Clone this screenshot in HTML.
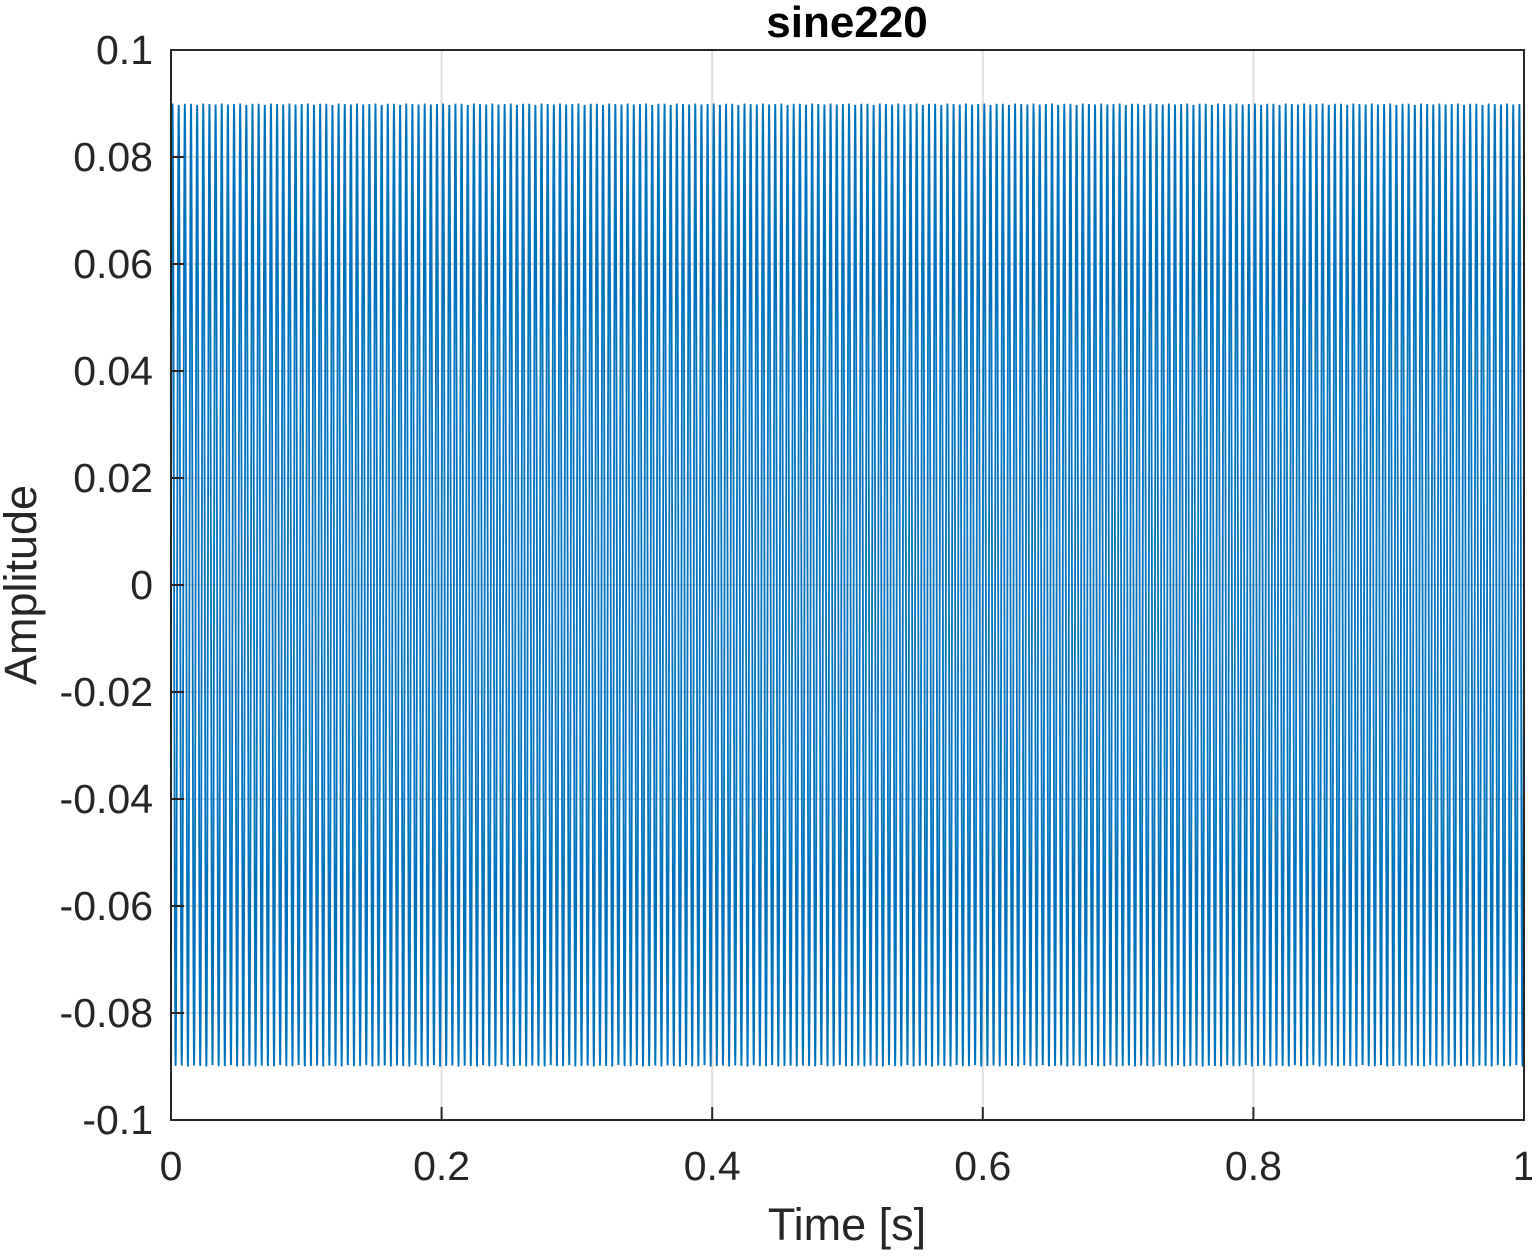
<!DOCTYPE html>
<html><head><meta charset="utf-8"><style>
body{margin:0;background:#fff;}
svg text{font-family:"Liberation Sans",Arial,sans-serif;fill:#262626;}
</style></head><body>
<svg id="chart" width="1532" height="1253" xmlns="http://www.w3.org/2000/svg">
<rect width="1532" height="1253" fill="#fff"/>
<g id="grid"></g>
<g id="series"></g>
<rect x="171" y="50" width="1353" height="1070" fill="none" stroke="#262626" stroke-width="2"/>
<g id="ticks"></g>
<text x="847" y="37" font-size="44" font-weight="bold" text-anchor="middle" style="fill:#000">sine220</text>
<text x="847" y="1240" font-size="45" text-anchor="middle">Time [s]</text>
<text transform="translate(36,585) rotate(-90)" font-size="45" text-anchor="middle">Amplitude</text>
</svg>
<script>
const xTicks=[0,0.2,0.4,0.6,0.8,1];
const xTickLabels=["0","0.2","0.4","0.6","0.8","1"];
const yTicks=[0.1,0.08,0.06,0.04,0.02,0,-0.02,-0.04,-0.06,-0.08,-0.1];
const yTickLabels=["0.1","0.08","0.06","0.04","0.02","0","-0.02","-0.04","-0.06","-0.08","-0.1"];
const signalFrequency=[220];
const signalAmplitude=[0.09];
const sampleRate=[8000];
const duration=[1];
const X0=171,X1=1524,Y0=1120,Y1=50;
function sx(v){return X0+(v-0)/(1-0)*(X1-X0);}
function sy(v){return Y0+(v+0.1)/(0.2)*(Y1-Y0);}
const NS="http://www.w3.org/2000/svg";
const grid=document.getElementById('grid'),ticks=document.getElementById('ticks'),ser=document.getElementById('series');
xTicks.forEach((t,i)=>{
 const l=document.createElementNS(NS,'line');
 
 
 l.setAttribute('x1',sx(t));l.setAttribute('x2',sx(t));l.setAttribute('y1',Y1);l.setAttribute('y2',Y0);
 l.setAttribute('stroke','#dfdfdf');l.setAttribute('stroke-width','2');grid.appendChild(l);
 const k=document.createElementNS(NS,'line');
 
 
 k.setAttribute('x1',sx(t));k.setAttribute('x2',sx(t));k.setAttribute('y1',Y0);k.setAttribute('y2',Y0-13);
 k.setAttribute('stroke','#262626');k.setAttribute('stroke-width','2');ticks.appendChild(k);
 const tx=document.createElementNS(NS,'text');
 
 
 tx.setAttribute('x',sx(t));tx.setAttribute('y',1180);tx.setAttribute('font-size','41');tx.setAttribute('text-anchor','middle');
 tx.textContent=xTickLabels[i];ticks.appendChild(tx);
});
yTicks.forEach((t,i)=>{
 const l=document.createElementNS(NS,'line');
 
 
 l.setAttribute('x1',X0);l.setAttribute('x2',X1);l.setAttribute('y1',sy(t));l.setAttribute('y2',sy(t));
 l.setAttribute('stroke','#dfdfdf');l.setAttribute('stroke-width','2');grid.appendChild(l);
 const k=document.createElementNS(NS,'line');
 
 
 k.setAttribute('x1',X0);k.setAttribute('x2',X0+13);k.setAttribute('y1',sy(t));k.setAttribute('y2',sy(t));
 k.setAttribute('stroke','#262626');k.setAttribute('stroke-width','2');ticks.appendChild(k);
 const tx=document.createElementNS(NS,'text');
 
 
 tx.setAttribute('x',153);tx.setAttribute('y',sy(t)+14);tx.setAttribute('font-size','41');tx.setAttribute('text-anchor','end');
 tx.textContent=yTickLabels[i];ticks.appendChild(tx);
});
let pts=[];
const n=Math.round(sampleRate[0]*duration[0]);
for(let i=0;i<=n;i++){
 const t=i/sampleRate[0];
 const v=signalAmplitude[0]*Math.sin(2*Math.PI*signalFrequency[0]*t);
 pts.push(sx(t).toFixed(2)+','+sy(v).toFixed(2));
}
const p=document.createElementNS(NS,'polyline');


p.setAttribute('points',pts.join(' '));
p.setAttribute('fill','none');p.setAttribute('stroke','#0072BD');p.setAttribute('stroke-width','1.8');
ser.appendChild(p);
</script>
</body></html>
